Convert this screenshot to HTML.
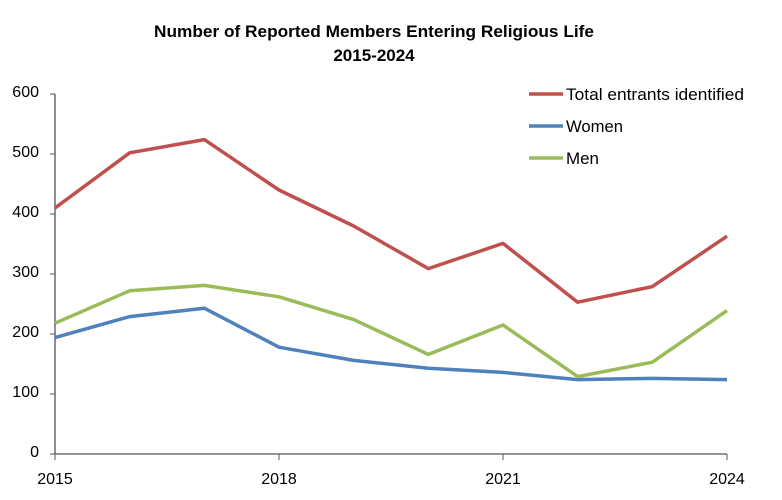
<!DOCTYPE html>
<html><head><meta charset="utf-8"><style>
body{margin:0;background:#fff;}
svg{display:block;font-family:"Liberation Sans",sans-serif;}
</style></head><body>
<svg id="chart" width="782" height="500">
<text x="374" y="37" text-anchor="middle" font-size="17" font-weight="bold" fill="#000" textLength="440" lengthAdjust="spacingAndGlyphs">Number of Reported Members Entering Religious Life</text>
<text x="374" y="61" text-anchor="middle" font-size="17" font-weight="bold" fill="#000">2015-2024</text>
<g id="axes"></g><g id="lines"></g><g id="legend"></g>
</svg>
<script>
const years=[2015,2016,2017,2018,2019,2020,2021,2022,2023,2024];
const total=[410,502,524,440,380,309,351,253,279,363];
const women=[194,229,243,178,156,143,136,124,126,124];
const men=[218,272,281,262,224,166,215,129,153,239];
const yTicks=[0,100,200,300,400,500,600];
const xTickLabels=[2015,2018,2021,2024];
const NS="http://www.w3.org/2000/svg";
const x0=55,x1=727,y0=454,y1=94;
const xs=v=>x0+(v-2015)*(x1-x0)/9;
const ys=v=>y0-v*(y0-y1)/600;
function mk(t,a,p){const e=document.createElementNS(NS,t);for(const k in a)e.setAttribute(k,a[k]);p.appendChild(e);return e;}
const ax=document.getElementById('axes');
let l=mk('line',{x1:x0,y1:y1,x2:x0,y2:y0,stroke:'#555','stroke-width':1.3},ax);


l=mk('line',{x1:x0,y1:y0,x2:x1,y2:y0,stroke:'#555','stroke-width':1.3},ax);


yTicks.forEach(v=>{
 mk('line',{x1:x0-5,y1:ys(v),x2:x0,y2:ys(v),stroke:'#555'},ax);
 const t=mk('text',{x:x0-16,y:ys(v)+3,'text-anchor':'end','font-size':16,fill:'#000'},ax);
 t.textContent=v;
 
 
});
xTickLabels.forEach(v=>{
 mk('line',{x1:xs(v),y1:y0,x2:xs(v),y2:y0+6,stroke:'#555'},ax);
 const t=mk('text',{x:xs(v),y:y0+30,'text-anchor':'middle','font-size':16,fill:'#000'},ax);
 t.textContent=v;
 
 
});
const series=[['total',total,'#c0504d','Total entrants identified',178],['women',women,'#4f81bd','Women',57],['men',men,'#9bbb59','Men',33]];
const lg=document.getElementById('lines'),leg=document.getElementById('legend');
series.forEach((s,i)=>{
 const p=mk('polyline',{points:s[1].map((v,j)=>xs(years[j])+','+ys(v)).join(' '),fill:'none',stroke:s[2],'stroke-width':3.5,'stroke-linejoin':'round'},lg);
 
 
 const ly=94+i*32;
 const ll=mk('line',{x1:529,y1:ly,x2:563,y2:ly,stroke:s[2],'stroke-width':3.5},leg);
 
 
 const t=mk('text',{x:566,y:ly+6,'font-size':17,fill:'#000',textLength:s[4],lengthAdjust:'spacingAndGlyphs'},leg);
 t.textContent=s[3];
 
 
});
</script>
</body></html>
